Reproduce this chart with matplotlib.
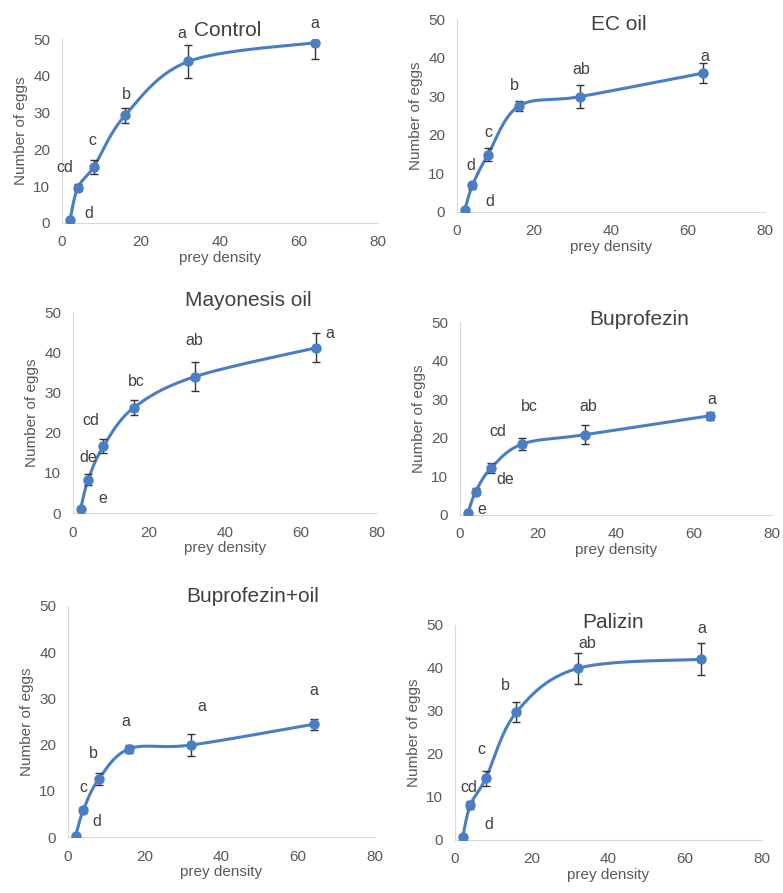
import matplotlib.pyplot as plt
import numpy as np

plt.rcParams['font.family'] = ['Liberation Sans', 'DejaVu Sans']

# prey densities offered
density = [2, 4, 8, 16, 32, 64]

# mean number of eggs and error per treatment
titles = ["Control", "EC oil", "Mayonesis oil", "Buprofezin", "Buprofezin+oil", "Palizin"]
eggs_control = [0.8, 9.6, 15.2, 29.3, 43.9, 49.0]
eggs_ecoil = [0.5, 6.9, 14.8, 27.4, 29.9, 36.0]
eggs_mayo = [1.0, 8.3, 16.6, 26.2, 33.9, 41.1]
eggs_bupro = [0.4, 6.0, 12.2, 18.4, 20.8, 25.7]
eggs_bupro_oil = [0.3, 5.8, 12.5, 19.1, 19.9, 24.4]
eggs_palizin = [0.7, 8.1, 14.3, 29.7, 39.9, 42.0]

err_control = [0.3, 0.9, 1.8, 2.0, 4.4, 4.4]
err_ecoil = [0.3, 0.9, 1.7, 1.3, 2.9, 2.6]
err_mayo = [0.3, 1.4, 1.7, 1.9, 3.6, 3.6]
err_bupro = [0.3, 0.9, 1.2, 1.5, 2.5, 1.0]
err_bupro_oil = [0.3, 0.7, 1.3, 0.9, 2.4, 1.2]
err_palizin = [0.3, 1.0, 1.7, 2.3, 3.6, 3.7]

# significance letters
letters_control = ["d", "cd", "c", "b", "a", "a"]
letters_ecoil = ["d", "d", "c", "b", "ab", "a"]
letters_mayo = ["e", "de", "cd", "bc", "ab", "a"]
letters_bupro = ["e", "de", "cd", "bc", "ab", "a"]
letters_bupro_oil = ["d", "c", "b", "a", "a", "a"]
letters_palizin = ["d", "cd", "c", "b", "ab", "a"]

all_eggs = [eggs_control, eggs_ecoil, eggs_mayo, eggs_bupro, eggs_bupro_oil, eggs_palizin]
all_err = [err_control, err_ecoil, err_mayo, err_bupro, err_bupro_oil, err_palizin]
all_letters = [letters_control, letters_ecoil, letters_mayo, letters_bupro, letters_bupro_oil, letters_palizin]

# where each letter sits (data coords), hand placed like in the original
letter_pos = [
    [(6.7, 2.5), (0.8, 15.2), (7.8, 22.5), (16.4, 34.9), (30.3, 51.4), (64, 54.2)],
    [(8.4, 2.6), (3.5, 12.1), (8.2, 20.6), (15, 32.9), (32.2, 36.8), (64.4, 40.3)],
    [(7.8, 3.7), (3.9, 13.9), (4.6, 23.1), (16.8, 32.6), (31.8, 43.0), (67.7, 44.6)],
    [(5.7, 1.5), (11.7, 9.3), (9.6, 21.6), (17.8, 28.0), (33, 28.0), (64.5, 29.9)],
    [(7.6, 3.3), (3.9, 10.8), (6.7, 18.1), (15.2, 24.9), (34.8, 28.3), (64.1, 31.8)],
    [(8.7, 3.6), (3.6, 12.2), (6.9, 21.1), (13, 36.0), (34.4, 45.7), (64.2, 49.2)],
]

# axes rectangles (left, bottom, width, height) and title centres, in figure fraction
boxes = [
    [0.0792, 0.7503, 0.4036, 0.2060],
    [0.5837, 0.7626, 0.3934, 0.2161],
    [0.0932, 0.4255, 0.3883, 0.2251],
    [0.5875, 0.4233, 0.3985, 0.2161],
    [0.0868, 0.0627, 0.3920, 0.2587],
    [0.5811, 0.0594, 0.3920, 0.2408],
]
title_xy = [(228, 30), (619, 25), (248, 301), (639, 320), (253, 596), (613, 622)]

line_col = '#4A7EC4'
grey = '#595959'
W, H = 783, 893


def excel_smooth(xs, ys, sx, sy, n=40):
    # bezier smoothing like excel's "smoothed line", done in pixel space
    p = np.column_stack([np.array(xs) * sx, np.array(ys) * sy])
    out = []
    for i in range(len(p) - 1):
        p0 = p[i - 1] if i > 0 else p[i]
        p3 = p[i + 2] if i + 2 < len(p) else p[i + 1]
        c1 = p[i] + (p[i + 1] - p0) / 6
        c2 = p[i + 1] - (p3 - p[i]) / 6
        t = np.linspace(0, 1, n)[:, None]
        seg = (1 - t) ** 3 * p[i] + 3 * (1 - t) ** 2 * t * c1 + 3 * (1 - t) * t ** 2 * c2 + t ** 3 * p[i + 1]
        out.append(seg)
    out = np.vstack(out)
    return out[:, 0] / sx, out[:, 1] / sy


fig = plt.figure(figsize=(W / 100, H / 100), dpi=100)

for k in range(6):
    ax = fig.add_axes(boxes[k])
    sx = boxes[k][2] * W / 80
    sy = boxes[k][3] * H / 50
    cx, cy = excel_smooth(density, all_eggs[k], sx, sy)
    ax.plot(cx, cy, color=line_col, lw=2.2, zorder=2)
    ax.errorbar(density, all_eggs[k], yerr=all_err[k], fmt='none', ecolor='#333333',
                elinewidth=1, capsize=3, capthick=1, zorder=3)
    ax.plot(density, all_eggs[k], 'o', color=line_col, ms=6.5, zorder=4)
    for lab, (lx, ly) in zip(all_letters[k], letter_pos[k]):
        ax.text(lx, ly, lab, ha='center', va='center', fontsize=11.5, color='#404040', clip_on=False)

    ax.set_xlim(0, 80)
    ax.set_ylim(0, 50)
    ax.set_xticks([0, 20, 40, 60, 80])
    ax.set_yticks([0, 10, 20, 30, 40, 50])
    for s in ['top', 'right']:
        ax.spines[s].set_visible(False)
    for s in ['left', 'bottom']:
        ax.spines[s].set_color('#D9D9D9')
    ax.tick_params(length=0, labelsize=11, labelcolor=grey)
    ax.tick_params(axis='x', pad=9)
    ax.tick_params(axis='y', pad=8.5)
    ax.set_xlabel("prey density", fontsize=11, color=grey, labelpad=1)
    ax.set_ylabel("Number of eggs", fontsize=11, color=grey, labelpad=4)
    tx, ty = title_xy[k]
    fig.text(tx / W, 1 - ty / H, titles[k], ha='center', va='center', fontsize=15, color='#404040')

fig.savefig("out.png", dpi=100)
